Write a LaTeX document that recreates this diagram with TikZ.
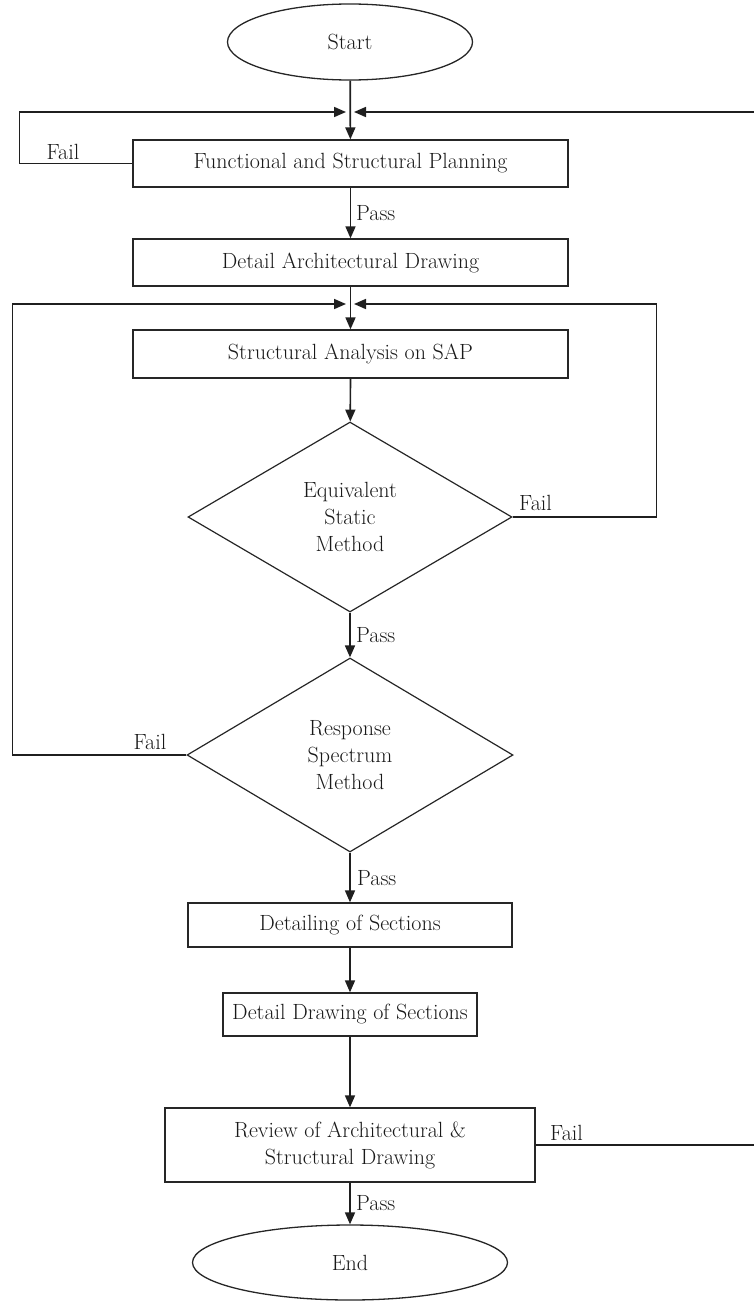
\documentclass[tikz,border=0pt]{standalone}
\usepackage{fontspec}
\usetikzlibrary{shapes.geometric,arrows.meta}
\begin{document}
\begin{tikzpicture}[x=1pt,y=-1pt,
  txt/.style={font=\fontsize{22}{27}\selectfont, text=black!90},
  stepbox/.style={txt, draw=black!85, line width=1.3pt, inner sep=0pt, align=center},
  term/.style={txt, draw=black!85, ellipse, line width=1.3pt, inner sep=0pt},
  dec/.style={txt, draw=black!85, diamond, line width=1.2pt, inner sep=0pt, align=center, shape aspect=1.7},
  conn/.style={line width=1.7pt, draw=black!88, -{Triangle[length=12pt,width=10pt]}},
  lbl/.style={txt, inner sep=0pt}]
\useasboundingbox (0,0) rectangle (754,1309);

\node[term, minimum width=245, minimum height=76] (start) at (350,42) {Start};
\node[stepbox, minimum width=435, minimum height=47] (func) at (350.5,163.5) {Functional and Structural Planning};
\node[stepbox, minimum width=435, minimum height=47] (arch) at (350.5,262.5) {Detail Architectural Drawing};
\node[stepbox, minimum width=435, minimum height=48] (sap) at (350.5,354) {Structural Analysis on SAP};
\node[dec, minimum width=324, minimum height=190] (esm) at (350,517) {Equivalent\\Static\\Method};
\node[dec, minimum width=326, minimum height=194] (rsm) at (350,755) {Response\\Spectrum\\Method};
\node[stepbox, minimum width=324, minimum height=44] (dos) at (350,925) {Detailing of Sections};
\node[stepbox, minimum width=254, minimum height=43] (dds) at (350,1014.5) {Detail Drawing of Sections};
\node[stepbox, minimum width=370, minimum height=74] (rev) at (350,1145) {Review of Architectural \&\\Structural Drawing};
\node[term, minimum width=315, minimum height=75] (end) at (350,1262.5) {End};

\coordinate (j1) at (350,112);
\coordinate (j2) at (350,304);

\draw[conn] (start) -- (func);
\draw[conn] (func) -- (arch);
\draw[conn] (arch) -- (sap);
\draw[conn] (sap) -- (esm);
\draw[conn] (esm) -- (rsm);
\draw[conn] (rsm) -- (dos);
\draw[conn] (dos) -- (dds);
\draw[conn] (dds) -- (rev);
\draw[conn] (rev) -- (end);

\draw[conn] (func.west) -- ++(-113,0) |- ([xshift=-4pt]j1);
\draw[conn] (rev.east) -- ++(230,0) |- ([xshift=4pt]j1);
\draw[conn] (esm.east) -- ++(144,0) |- ([xshift=4pt]j2);
\draw[conn] (rsm.west) -- ++(-174,0) |- ([xshift=-4pt]j2);

\node[lbl] (f1) at (63,152) {Fail};
\node[lbl, anchor=west] (p1) at (356,213) {Pass};
\node[lbl, anchor=west] (f2) at (519,503) {Fail};
\node[lbl, anchor=west] (p2) at (356,635) {Pass};
\node[lbl] (f3) at (150,742) {Fail};
\node[lbl, anchor=west] (p3) at (357,878) {Pass};
\node[lbl, anchor=west] (f4) at (550,1133) {Fail};
\node[lbl, anchor=west] (p4) at (356,1203) {Pass};
\end{tikzpicture}
\end{document}
